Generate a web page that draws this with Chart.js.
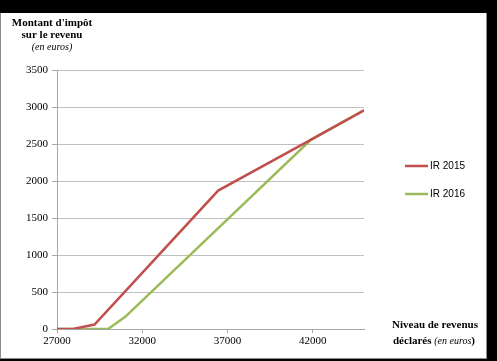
<!DOCTYPE html>
<html>
<head>
<meta charset="utf-8">
<script src="https://cdn.jsdelivr.net/npm/chart.js@4/dist/chart.umd.min.js"></script>
<style>
  html, body { margin: 0; padding: 0; background: #000; }
  #frame { position: absolute; left: 0; top: 13px; width: 485px; height: 345px;
           background: #fff; border-left: 1px solid #8c8c8c; border-right: 1px solid #8c8c8c;
           border-bottom: 1px solid #8c8c8c; }
  #wrap { position: absolute; left: 0; top: 0; width: 497px; height: 361px; }
</style>
</head>
<body>
<div id="frame"></div>
<div id="wrap"><canvas id="chart" width="497" height="361"></canvas></div>
<script>
// -----------------------------
// DATA
// -----------------------------
const ir2015Income = [27000, 28000, 29200, 36450, 41900, 45000];
const ir2015Tax    = [0, 5, 60, 1870, 2560, 2955];

const ir2016Income = [27000, 30000, 31000, 41900, 45000];
const ir2016Tax    = [0, 0, 165, 2560, 2955];

const xTicks = [27000, 32000, 37000, 42000];
const yTicks = [0, 500, 1000, 1500, 2000, 2500, 3000, 3500];

const seriesLabels = ["IR 2015", "IR 2016"];
const seriesColors = ["#C0504D", "#9BBB59"];

// pair up x / y arrays for a linear x axis
function toPoints(xs, ys) {
    return xs.map((x, i) => ({ x: x, y: ys[i] }));
}

const serif = "'Liberation Serif', 'Times New Roman', serif";

/* =========================
   TITLES + LEGEND PLUGIN
========================= */
const decorations = {
    id: "decorations",
    afterDraw(chart) {
        const ctx = chart.ctx;
        ctx.save();
        ctx.fillStyle = "#000";
        ctx.textBaseline = "middle";

        // y axis title (top left)
        ctx.textAlign = "center";
        ctx.font = "bold 11px " + serif;
        ctx.fillText("Montant d'impôt", 52, 23);
        ctx.fillText("sur le revenu", 52, 35);
        ctx.font = "italic 10px " + serif;
        ctx.fillText("(en euros)", 52, 47);

        // x axis title (bottom right)
        ctx.textAlign = "left";
        ctx.font = "bold 11px " + serif;
        ctx.fillText("Niveau de revenus", 392, 325);
        const line2 = "déclarés ";
        ctx.fillText(line2, 393, 341);
        let x = 393 + ctx.measureText(line2).width;
        ctx.font = "italic 10px " + serif;
        ctx.fillText("(en euros", x, 341);
        x += ctx.measureText("(en euros").width;
        ctx.font = "bold 11px " + serif;
        ctx.fillText(")", x, 341);

        // legend
        const legendY = [166, 194];
        ctx.font = "10px 'Liberation Sans', Arial, sans-serif";
        seriesLabels.forEach((label, i) => {
            ctx.strokeStyle = seriesColors[i];
            ctx.lineWidth = 2.5;
            ctx.beginPath();
            ctx.moveTo(405, legendY[i]);
            ctx.lineTo(428, legendY[i]);
            ctx.stroke();
            ctx.fillText(label, 430, legendY[i]);
        });
        ctx.restore();
    }
};

/* =========================
   LINE CHART
========================= */
new Chart(document.getElementById("chart"), {
    type: "line",
    data: {
        datasets: [
            {
                label: seriesLabels[0],
                data: toPoints(ir2015Income, ir2015Tax),
                borderColor: seriesColors[0],
                borderWidth: 2.5,
                pointRadius: 0,
                tension: 0
            },
            {
                label: seriesLabels[1],
                data: toPoints(ir2016Income, ir2016Tax),
                borderColor: seriesColors[1],
                borderWidth: 2.5,
                pointRadius: 0,
                tension: 0
            }
        ]
    },
    options: {
        responsive: false,
        animation: false,
        layout: { padding: { left: 0, top: 70, right: 133, bottom: 0 } },
        plugins: { legend: { display: false }, tooltip: { enabled: false } },
        scales: {
            x: {
                type: "linear",
                min: 27000,
                max: 45000,
                afterBuildTicks: axis => { axis.ticks = xTicks.map(v => ({ value: v })); },
                afterFit: axis => { axis.height = 32; },
                grid: { drawOnChartArea: false, drawTicks: true, tickLength: 4, color: "#a6a6a6" },
                border: { color: "#a6a6a6" },
                ticks: {
                    color: "#000",
                    font: { family: serif, size: 11 },
                    padding: 2,
                    maxRotation: 0,
                    callback: v => String(v)
                }
            },
            y: {
                min: 0,
                max: 3500,
                afterBuildTicks: axis => { axis.ticks = yTicks.map(v => ({ value: v })); },
                afterFit: axis => { axis.width = 57; },
                grid: { color: "#bfbfbf", tickLength: 5, tickColor: "#a6a6a6" },
                border: { color: "#a6a6a6" },
                ticks: {
                    color: "#000",
                    font: { family: serif, size: 11 },
                    padding: 4,
                    callback: v => String(v)
                }
            }
        }
    },
    plugins: [decorations]
});
</script>
</body>
</html>
